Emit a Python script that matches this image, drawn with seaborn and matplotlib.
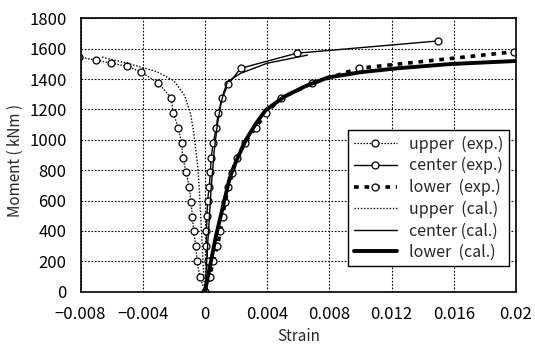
import matplotlib
matplotlib.use("Agg")
import matplotlib.pyplot as plt
import seaborn as sns
import pandas as pd

# ---- data (strain, moment kNm) ----
upper_exp_x = [0, -0.00032, -0.00051, -0.00058, -0.00073, -0.0008, -0.0009, -0.00101,
               -0.00122, -0.00142, -0.0015, -0.0017, -0.00205, -0.00216, -0.003,
               -0.00408, -0.00504, -0.00607, -0.00703, -0.0081]
upper_exp_y = [0, 100, 200, 300, 400, 495, 592, 690, 788, 882, 977, 1078, 1178, 1275,
               1373, 1446, 1485, 1505, 1525, 1545]

center_exp_x = [0, 0.00028, 0.00017, 0.0001, 0.0001, 0.00013, 0.00017, 0.00028, 0.00035,
                0.0004, 0.00053, 0.00073, 0.00085, 0.0011, 0.0015, 0.0023, 0.0059, 0.015]
center_exp_y = [0, 100, 200, 300, 400, 500, 600, 690, 785, 880, 978, 1077, 1176, 1273,
                1367, 1471, 1570, 1651]

lower_exp_x = [0, 0.0003, 0.00053, 0.0008, 0.001, 0.00113, 0.0013, 0.00151, 0.00177,
               0.00205, 0.00256, 0.00327, 0.00391, 0.00487, 0.0069, 0.00989, 0.0199]
lower_exp_y = [0, 100, 200, 300, 400, 495, 590, 687, 780, 882, 981, 1080, 1175, 1273,
               1372, 1471, 1580]

upper_cal_x = [0, -0.0001, -0.0002, -0.0003, -0.0004, -0.0005, -0.0006, -0.00071,
               -0.00092, -0.0013, -0.002, -0.0031, -0.005, -0.0067]
upper_cal_y = [0, 150, 350, 560, 740, 860, 940, 1040, 1170, 1290, 1390, 1449, 1504, 1547]

center_cal_x = [0, 0.0002, 0.0004, 0.0006, 0.0008, 0.001, 0.0012, 0.00145, 0.0023,
                0.004, 0.0066]
center_cal_y = [0, 350, 680, 930, 1100, 1220, 1310, 1383, 1438, 1504, 1558]

lower_cal_x = [0, 0.0007, 0.00156, 0.00177, 0.0021, 0.00263, 0.0033, 0.0039, 0.0051,
               0.0065, 0.0079, 0.01, 0.0124, 0.0158, 0.02]
lower_cal_y = [0, 362, 735, 801, 880, 999, 1110, 1195, 1284, 1355, 1410, 1445, 1471,
               1499, 1519]

x_ticks = [-0.008, -0.004, 0, 0.004, 0.008, 0.012, 0.016, 0.02]
x_tick_labels = ["\u22120.008", "\u22120.004", "0", "0.004", "0.008", "0.012", "0.016", "0.02"]
y_ticks = [0, 200, 400, 600, 800, 1000, 1200, 1400, 1600, 1800]

labels = ["upper  (exp.)", "center (exp.)", "lower  (exp.)",
          "upper  (cal.)", "center (cal.)", "lower  (cal.)"]

sns.set_style("white")
plt.rcParams['font.family'] = ['Noto Sans CJK JP', 'DejaVu Sans']

fig = plt.figure(figsize=(5.35, 3.49), dpi=100)
ax = fig.add_axes([80.5 / 535, (349 - 291.7) / 349, 435.5 / 535, 273.4 / 349])

mk = dict(marker='o', markersize=5, markerfacecolor='white', markeredgecolor='black',
          markeredgewidth=0.9)

series = [
    (upper_exp_x, upper_exp_y, dict(linestyle=(0, (1.2, 1.2)), linewidth=0.9, **mk)),
    (center_exp_x, center_exp_y, dict(linestyle='-', linewidth=1.0, **mk)),
    (lower_exp_x, lower_exp_y, dict(linestyle=(0, (1.3, 1.6)), linewidth=2.6, **mk)),
    (upper_cal_x, upper_cal_y, dict(linestyle=(0, (1.0, 1.3)), linewidth=1.0)),
    (center_cal_x, center_cal_y, dict(linestyle='-', linewidth=1.0)),
    (lower_cal_x, lower_cal_y, dict(linestyle='-', linewidth=2.8)),
]

for (xs, ys, kw), lab in zip(series, labels):
    df = pd.DataFrame({"Strain": xs, "Moment": ys})
    sns.lineplot(data=df, x="Strain", y="Moment", sort=False, estimator=None,
                 color='black', label=lab, ax=ax, **kw)

ax.set_xlim(-0.008, 0.02)
ax.set_ylim(0, 1800)
ax.set_xticks(x_ticks)
ax.set_xticklabels(x_tick_labels)
ax.set_yticks(y_ticks)
ax.tick_params(axis='both', direction='in', length=4, width=1, colors='black', labelsize=12)
ax.tick_params(axis='x', pad=10)
ax.tick_params(axis='y', pad=10)
ax.grid(True, color='black', linestyle=(0, (1.5, 1.5)), linewidth=0.8)
for s in ax.spines.values():
    s.set_color('black')
    s.set_linewidth(1.2)

ax.set_xlabel("Strain", fontsize=11, labelpad=4)
ax.set_ylabel("Moment ( kNm )", fontsize=11)
ax.yaxis.set_label_coords(-0.13, 0.48)

leg = ax.legend(loc='upper left', bbox_to_anchor=((348 - 80.5) / 435.5, (291.7 - 130) / 273.4),
                borderaxespad=0, frameon=True, fancybox=False, edgecolor='black',
                framealpha=1, fontsize=11.5, handlelength=2.7, handletextpad=0.75,
                labelspacing=0.28, borderpad=0.35)
leg.get_frame().set_linewidth(1.0)

fig.savefig("out.png", dpi=100)
